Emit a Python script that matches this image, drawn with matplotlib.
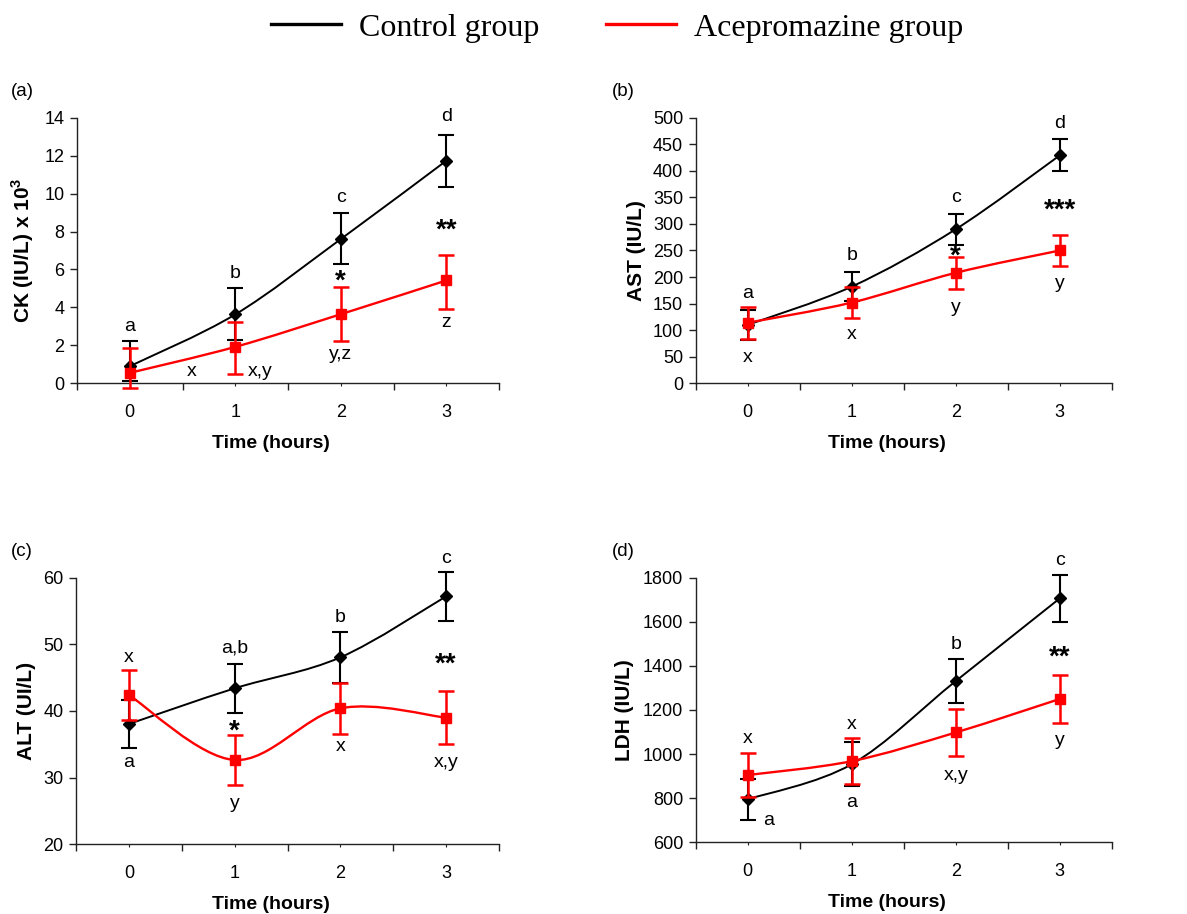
import numpy as np
import matplotlib
matplotlib.use("Agg")
import matplotlib.pyplot as plt
from matplotlib.path import Path
from matplotlib.patches import PathPatch
from matplotlib.lines import Line2D
from matplotlib.ticker import FixedLocator, NullFormatter, FixedFormatter

plt.rcParams['font.family'] = ['Liberation Sans', 'DejaVu Sans']
plt.rcParams['mathtext.fontset'] = 'custom'
plt.rcParams['mathtext.bf'] = 'Liberation Sans:bold'
plt.rcParams['mathtext.rm'] = 'Liberation Sans'

# ---------------- data ----------------
hours = [0, 1, 2, 3]
hour_labels = ["0", "1", "2", "3"]

ck_ctrl = [0.9, 3.63, 7.6, 11.73]
ck_ctrl_lo = [0.8, 1.37, 1.32, 1.36]
ck_ctrl_hi = [1.35, 1.37, 1.38, 1.37]
ck_ace = [0.55, 1.92, 3.64, 5.42]
ck_ace_lo = [0.82, 1.44, 1.39, 1.52]
ck_ace_hi = [1.32, 1.32, 1.45, 1.34]

ast_ctrl = [110, 182, 290, 429]
ast_ctrl_err = [28, 28, 29, 30]
ast_ace = [114, 152, 208, 250]
ast_ace_err = [30, 30, 30, 30]

alt_ctrl = [38.05, 43.4, 48.05, 57.2]
alt_ctrl_err = [3.6, 3.7, 3.8, 3.7]
alt_ace = [42.4, 32.65, 40.4, 39.0]
alt_ace_err = [3.7, 3.7, 3.8, 4.0]

ldh_ctrl = [795, 954, 1331, 1706]
ldh_ctrl_err = [94, 100, 100, 105]
ldh_ace = [905, 968, 1098, 1250]
ldh_ace_err = [100, 105, 108, 110]

legend_labels = ["Control group", "Acepromazine group"]
panel_tags = ["(a)", "(b)", "(c)", "(d)"]
ylabels = [r"CK (IU/L) x 10$^{\mathbf{3}}$", "AST (IU/L)", "ALT (UI/L)", "LDH (IU/L)"]
xlabel = "Time (hours)"

# annotation texts: (x, y, text)
notes_a = [(0, 3.0, "a"), (1, 5.8, "b"), (2, 9.8, "c"), (3, 14.07, "d"),
           (0.59, 0.6, "x"), (1.24, 0.6, "x,y"), (2, 1.5, "y,z"), (3, 3.2, "z")]
stars_a = [(2, 5.6, "*"), (3, 8.3, "**")]
notes_b = [(0, 169, "a"), (1, 240, "b"), (2, 350, "c"), (3, 489, "d"),
           (0, 48, "x"), (1, 91, "x"), (2, 142, "y"), (3, 187, "y")]
stars_b = [(2, 248, "*"), (3, 334, "***")]
notes_c = [(0, 48.1, "x"), (0, 32.2, "a"), (1, 49.4, "a,b"), (1, 26.1, "y"),
           (2, 54.0, "b"), (2, 34.6, "x"), (3, 62.9, "c"), (3, 32.2, "x,y")]
stars_c = [(1, 37.6, "*"), (3, 47.75, "**")]
notes_d = [(0, 1071, "x"), (0.2, 697, "a"), (1, 1132, "x"), (1, 780, "a"),
           (2, 1497, "b"), (2, 905, "x,y"), (3, 1878, "c"), (3, 1060, "y")]
stars_d = [(3, 1460, "**")]

# ---------------- helpers ----------------
def smooth_line(ax, xs, ys, color, lw=1.4, z=2):
    pts = np.column_stack([xs, ys]).astype(float)
    n = len(pts)
    verts = [pts[0]]
    codes = [Path.MOVETO]
    for i in range(n - 1):
        p0 = pts[i - 1] if i > 0 else pts[i]
        p1 = pts[i]
        p2 = pts[i + 1]
        p3 = pts[i + 2] if i + 2 < n else pts[i + 1]
        c1 = p1 + (p2 - p0) / 6.0
        c2 = p2 - (p3 - p1) / 6.0
        verts += [c1, c2, p2]
        codes += [Path.CURVE4] * 3
    patch = PathPatch(Path(verts, codes), facecolor='none', edgecolor=color,
                      lw=lw, transform=ax.transData, zorder=z)
    ax.add_patch(patch)


def style_axis(ax, ylim, yticks):
    ax.set_xlim(-0.5, 3.5)
    ax.set_ylim(*ylim)
    ax.set_yticks(yticks)
    ax.spines['top'].set_visible(False)
    ax.spines['right'].set_visible(False)
    for s in ('left', 'bottom'):
        ax.spines[s].set_linewidth(1.0)
        ax.spines[s].set_color('#222222')
    ax.xaxis.set_major_locator(FixedLocator([-0.5, 0.5, 1.5, 2.5, 3.5]))
    ax.xaxis.set_major_formatter(NullFormatter())
    ax.xaxis.set_minor_locator(FixedLocator(hours))
    ax.xaxis.set_minor_formatter(FixedFormatter(hour_labels))
    ax.tick_params(axis='x', which='major', direction='out', length=5, width=1.0, color='#222222')
    ax.tick_params(axis='x', which='minor', direction='out', length=2, width=0.8,
                   labelsize=13, pad=13, color='#222222')
    ax.tick_params(axis='y', direction='out', length=5, width=1.0, labelsize=13, pad=4,
                   color='#222222')


def plot_panel(ax, ctrl, ctrl_err, ace, ace_err, notes, stars):
    smooth_line(ax, hours, ctrl, 'black', lw=1.4, z=2)
    eb = ax.errorbar(hours, ctrl, yerr=ctrl_err, fmt='D', color='black', ms=6.2,
                     ecolor='black', elinewidth=1.5, capsize=5.5, capthick=1.5, zorder=3)
    for a in eb.lines[1] + eb.lines[2]:
        a.set_clip_on(False)
    smooth_line(ax, hours, ace, '#ff0000', lw=1.7, z=4)
    eb = ax.errorbar(hours, ace, yerr=ace_err, fmt='s', color='#ff0000', ms=7.5,
                     ecolor='#ff0000', elinewidth=1.8, capsize=5.5, capthick=1.8, zorder=5)
    for a in eb.lines[1] + eb.lines[2]:
        a.set_clip_on(False)
    for x, y, t in notes:
        ax.text(x, y, t, ha='center', va='center', fontsize=14, zorder=6)
    for x, y, t in stars:
        ax.annotate(t, (x, y), xytext=(0, -3.5), textcoords='offset points',
                    ha='center', va='center', fontsize=20, fontweight='bold', zorder=6)


# ---------------- figure ----------------
W, H = 1187, 914
fig = plt.figure(figsize=(W / 100, H / 100), dpi=100)

ax_a = fig.add_axes([77 / W, 1 - 383.3 / H, 422 / W, 265.6 / H])
ax_b = fig.add_axes([695.7 / W, 1 - 383.3 / H, 416 / W, 265.6 / H])
ax_c = fig.add_axes([76 / W, 1 - 844.3 / H, 423 / W, 266.6 / H])
ax_d = fig.add_axes([695.7 / W, 1 - 842.3 / H, 416 / W, 264.6 / H])

style_axis(ax_a, (0, 14), np.arange(0, 15, 2))
style_axis(ax_b, (0, 500), np.arange(0, 501, 50))
style_axis(ax_c, (20, 60), np.arange(20, 61, 10))
style_axis(ax_d, (600, 1800), np.arange(600, 1801, 200))

plot_panel(ax_a, ck_ctrl, [ck_ctrl_lo, ck_ctrl_hi], ck_ace, [ck_ace_lo, ck_ace_hi], notes_a, stars_a)
plot_panel(ax_b, ast_ctrl, ast_ctrl_err, ast_ace, ast_ace_err, notes_b, stars_b)
plot_panel(ax_c, alt_ctrl, alt_ctrl_err, alt_ace, alt_ace_err, notes_c, stars_c)
plot_panel(ax_d, ldh_ctrl, ldh_ctrl_err, ldh_ace, ldh_ace_err, notes_d, stars_d)

ylab_x = [-0.097, -0.120, -0.095, -0.149]
for ax, lab, lx in zip([ax_a, ax_b, ax_c, ax_d], ylabels, ylab_x):
    ax.set_ylabel(lab, fontsize=15, fontweight='bold')
    ax.yaxis.set_label_coords(lx, 0.5)
    ax.set_xlabel(xlabel, fontsize=14, fontweight='bold')
    ax.xaxis.set_label_coords(0.46, -0.195)

for (px, py), tag in zip([(11, 91), (612, 92), (11, 551), (612, 551)], panel_tags):
    fig.text(px / W, 1 - py / H, tag, ha='left', va='center', fontsize=13.5)

handles = [Line2D([], [], color='black', lw=2.4), Line2D([], [], color='#ff0000', lw=2.4)]
fig.legend(handles, legend_labels, loc='center', bbox_to_anchor=(617 / W, 1 - 28 / H),
           ncol=2, frameon=False, prop={'family': 'Liberation Serif', 'size': 23},
           handlelength=2.2, handletextpad=0.55, columnspacing=2.1)

fig.savefig('out.png', dpi=100)
